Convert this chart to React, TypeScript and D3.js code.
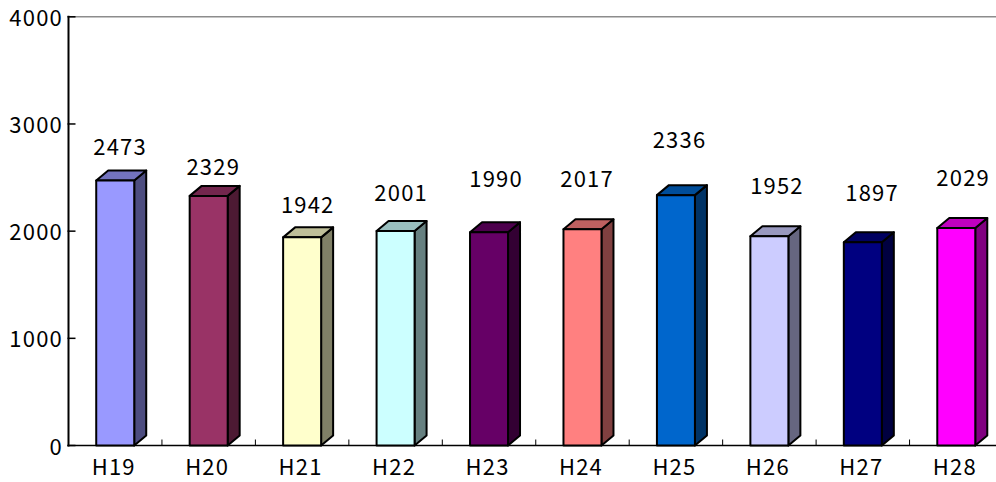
import React from "react";
import * as d3 from "d3";

const categories = ["H19", "H20", "H21", "H22", "H23", "H24", "H25", "H26", "H27", "H28"];
const values = [2473, 2329, 1942, 2001, 1990, 2017, 2336, 1952, 1897, 2029];
const yTicks = [0, 1000, 2000, 3000, 4000];
const frontColors = ["#9999ff", "#993366", "#ffffcc", "#ccffff", "#660066", "#ff8080", "#0066cc", "#ccccff", "#000080", "#ff00ff"];

// Hand-placed value labels: offset from the bar's front top-left corner to the label's anchor.
const labelShiftX = [23.9, 23.6, 24.6, 24.6, 26.1, 23.6, 22.6, 26.6, 28.3, 25.9];
const labelGaps = [25, 21, 24.6, 30, 45, 42, 47.5, 42.3, 41, 42.3];

const W = 996;
const H = 482;
const LEFT = 68.5;
const TOP = 16.8;
const BOTTOM = 445.5;
const STEP = 93.45;
const BAR_W = 38;
const DX = 12;
const DY = 10;
const FONT = "'Noto Sans CJK JP', 'Liberation Sans', sans-serif";
const FONT_SIZE = 22;
const TRACKING = 1.2;

const x = d3.scaleBand<string>().domain(categories).range([LEFT, LEFT + STEP * categories.length]).paddingInner(0).paddingOuter(0);
const y = d3.scaleLinear().domain([0, 4000]).range([BOTTOM, TOP]);

function shade(color: string, k: number): string {
  const c = d3.rgb(color);
  return d3.rgb(c.r * k, c.g * k, c.b * k).formatHex();
}

export default function App() {
  return (
    <svg width={W} height={H} viewBox={`0 0 ${W} ${H}`} style={{ position: "absolute", left: 0, top: 0, background: "#fff", fontVariantNumeric: "tabular-nums" }} fontFamily={FONT}>
      {/* top edge of the plot */}
      <line x1={LEFT} x2={W} y1={y(4000)} y2={y(4000)} stroke="#8c8c8c" strokeWidth={1.5} />

      {/* category axis with ticks between the bars */}
      <line x1={LEFT - 1} x2={W} y1={BOTTOM} y2={BOTTOM} stroke="#000" strokeWidth={1.5} />
      {categories.slice(1).map((c) => (
        <line key={c} x1={x(c)!} x2={x(c)!} y1={BOTTOM} y2={BOTTOM - 6} stroke="#000" strokeWidth={1} />
      ))}

      {/* value axis */}
      <line x1={LEFT} x2={LEFT} y1={TOP - 1} y2={BOTTOM + 1} stroke="#000" strokeWidth={2} />
      {yTicks.map((t) => (
        <g key={t}>
          <line x1={LEFT - 1} x2={LEFT + 7} y1={y(t)} y2={y(t)} stroke="#000" strokeWidth={1.5} />
          <text x={63} y={y(t) + 9} textAnchor="end" fontSize={FONT_SIZE} letterSpacing={TRACKING} fill="#000">{t}</text>
        </g>
      ))}

      {/* bars with an extruded top and right side */}
      {categories.map((c, i) => {
        const x0 = x(c)! + (x.bandwidth() - BAR_W) / 2;
        const x1 = x0 + BAR_W;
        const yTop = y(values[i]);
        const col = frontColors[i];
        const top = `M${x0},${yTop}L${x0 + DX},${yTop - DY}L${x1 + DX},${yTop - DY}L${x1},${yTop}Z`;
        const side = `M${x1},${yTop}L${x1 + DX},${yTop - DY}L${x1 + DX},${BOTTOM - DY}L${x1},${BOTTOM}Z`;
        return (
          <g key={c} stroke="#000" strokeWidth={2} strokeLinejoin="round">
            <path d={side} fill={shade(col, 0.5)} />
            <path d={top} fill={shade(col, 0.75)} />
            <rect x={x0} y={yTop} width={BAR_W} height={BOTTOM - yTop} fill={col} />
            <text x={x0 + labelShiftX[i]} y={yTop - labelGaps[i]} textAnchor="middle" fontSize={FONT_SIZE} letterSpacing={TRACKING} fill="#000" stroke="none">{values[i]}</text>
            <text x={x0 + 17.5} y={475} textAnchor="middle" fontSize={FONT_SIZE} letterSpacing={TRACKING} fill="#000" stroke="none">{c}</text>
          </g>
        );
      })}
    </svg>
  );
}
